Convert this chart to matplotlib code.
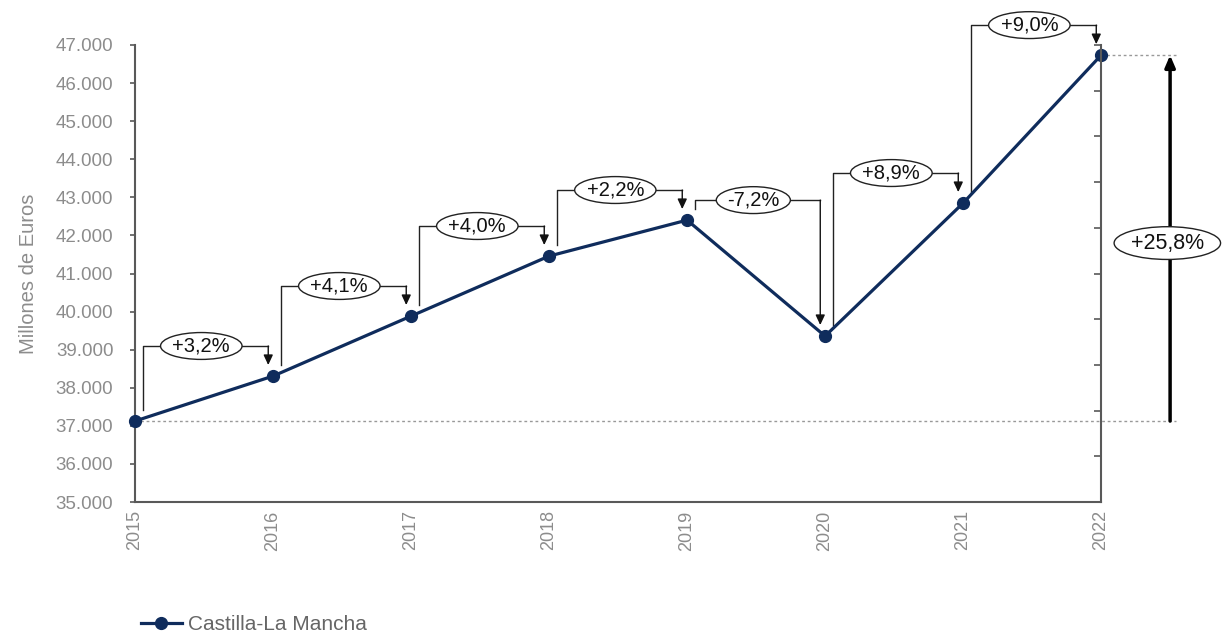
import matplotlib.pyplot as plt

plt.rcParams['font.family'] = ['Liberation Sans', 'DejaVu Sans']

years = ["2015", "2016", "2017", "2018", "2019", "2020", "2021", "2022"]
values = [37126, 38307, 39882, 41457, 42402, 39357, 42848, 46732]
changes = ["+3,2%", "+4,1%", "+4,0%", "+2,2%", "-7,2%", "+8,9%", "+9,0%"]
total_change = "+25,8%"

navy = "#0f2c5c"
grey = "#8c8c8c"
axis_grey = "#595959"

fig = plt.figure(figsize=(12.3, 6.4), dpi=100)
ax = fig.add_axes([0.1098, 0.2156, 0.7854, 0.7141])

x = list(range(len(years)))
ax.plot(x, values, color=navy, lw=2.3, marker="o", ms=8.5, zorder=5,
        label="Castilla-La Mancha", clip_on=False)

ax.set_xlim(0, len(years) - 1)
ax.set_ylim(35000, 47000)
ax.set_yticks(range(35000, 47001, 1000))
ax.set_yticklabels([f"{v:,}".replace(",", ".") for v in range(35000, 47001, 1000)])
ax.set_xticks(x)
ax.set_xticklabels(years, rotation=90)
ax.tick_params(axis="y", colors=axis_grey, labelcolor=grey, labelsize=13.5,
               length=3.6, width=1.2, pad=12)
ax.tick_params(axis="x", length=0, labelcolor=grey, labelsize=13, pad=6)
ax.set_ylabel("Millones de Euros", color=grey, fontsize=14.5)
ax.yaxis.set_label_coords(-0.1, 0.5)

for side in ["top", "right"]:
    ax.spines[side].set_visible(False)
for side in ["left", "bottom"]:
    ax.spines[side].set_color(axis_grey)
    ax.spines[side].set_linewidth(1.5)

# secondary axis on the right: ticks only
ax2 = ax.twinx()
ax2.set_ylim(0, 10)
ax2.set_yticks(range(0, 11))
ax2.set_yticklabels([])
ax2.tick_params(axis="y", direction="in", length=5, width=1.2, colors=axis_grey)
for side in ["top", "left", "bottom"]:
    ax2.spines[side].set_visible(False)
ax2.spines["right"].set_color(axis_grey)
ax2.spines["right"].set_linewidth(1.5)

# year over year connectors
gap = 290
for i, txt in enumerate(changes):
    x0 = i + 0.055
    x1 = i + 1 - 0.035
    y0 = values[i]
    y1 = values[i + 1]
    lift = 525 if y1 < y0 else 790
    level = max(y0, y1) + lift
    ax.plot([x0, x0, x1], [y0 + gap, level, level], color="#222222", lw=1.0,
            clip_on=False, zorder=3)
    ax.annotate("", xy=(x1, y1 + gap), xytext=(x1, level),
                arrowprops=dict(arrowstyle="-|>,head_width=0.28,head_length=0.6",
                                color="#111111", lw=1.0, shrinkA=0, shrinkB=0),
                annotation_clip=False, zorder=3)
    ax.text((x0 + x1) / 2 - 0.03, level, txt, ha="center", va="center",
            fontsize=14.5, color="#111111", zorder=6,
            bbox=dict(boxstyle="ellipse,pad=0.0", fc="white", ec="#222222", lw=1.0))

# total change
xt = len(years) - 1 + 0.5
xd = len(years) - 1 + 0.54
ax.plot([0, xd], [values[0], values[0]], color="#999999", lw=1, ls=(0, (2, 2)),
        clip_on=False, zorder=2)
ax.plot([len(years) - 1, xd], [values[-1], values[-1]], color="#999999", lw=1,
        ls=(0, (2, 2)), clip_on=False, zorder=2)
ax.annotate("", xy=(xt, values[-1]), xytext=(xt, values[0]),
            arrowprops=dict(arrowstyle="-|>,head_width=0.3,head_length=0.7",
                            color="black", lw=2.5, shrinkA=0, shrinkB=0),
            annotation_clip=False, zorder=3)
ax.text(xt - 0.02, (values[0] + values[-1]) / 2 - 130, total_change, ha="center",
        va="center", fontsize=15.5, color="#111111", zorder=6,
        bbox=dict(boxstyle="ellipse,pad=0.05", fc="white", ec="#222222", lw=1.0))

fig.legend(loc="lower left", bbox_to_anchor=(0.099, -0.02), frameon=False,
           fontsize=15, labelcolor="#666666", handlelength=2.0, handletextpad=0.3)

fig.savefig("out.png", dpi=100)
